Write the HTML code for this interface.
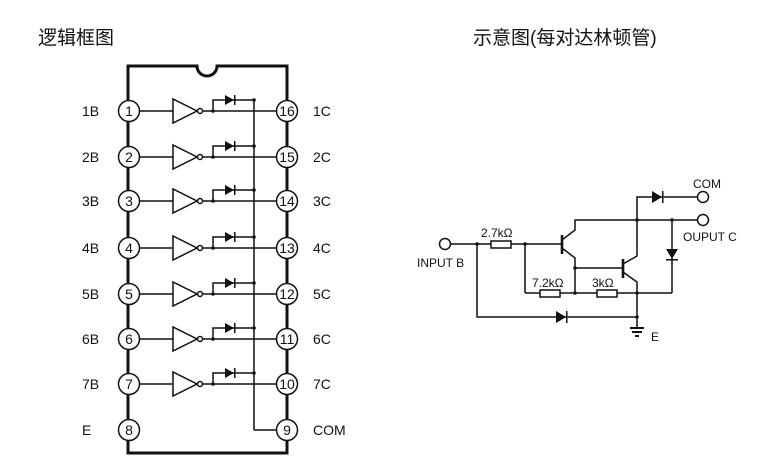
<!DOCTYPE html>
<html><head><meta charset="utf-8"><style>
html,body{margin:0;padding:0;background:#fff;}
svg{display:block;font-family:"Liberation Sans","Noto Sans CJK SC",sans-serif;}
</style></head><body>
<svg id="s" width="775" height="469" viewBox="0 0 775 469" xmlns="http://www.w3.org/2000/svg">
<text x="38" y="44" font-size="19" fill="#111" font-family="Liberation Sans, Noto Sans CJK SC, sans-serif">逻辑框图</text>
<text x="473" y="44" font-size="19" fill="#111" font-family="Liberation Sans, Noto Sans CJK SC, sans-serif">示意图(每对达林顿管)</text>
<path d="M128 66 H197 A10 10 0 0 0 217 66 H287 V453 H128 Z" fill="none" stroke="#111" stroke-width="3"/>
<g id="rows" stroke="#111" stroke-width="1.5" fill="none"></g>
<line x1="254" y1="100" x2="254" y2="430" stroke="#111" stroke-width="1.5"/>
<line x1="254" y1="430" x2="276" y2="430" stroke="#111" stroke-width="1.5"/>
<g stroke="#111" stroke-width="1.5" fill="none">
 <circle cx="445" cy="244" r="5.5" fill="#fff"/>
 <line x1="450" y1="244" x2="491" y2="244"/>
 <rect x="491" y="241" width="20" height="7"/>
 <line x1="511" y1="244" x2="562" y2="244"/>
 <line x1="562" y1="235" x2="562" y2="254" stroke-width="2.6"/>
 <polyline points="562,240 575,230 575,220 700,220"/>
 <polyline points="562,248 575,258 575,293"/>
 <line x1="575" y1="268" x2="623" y2="268"/>
 <line x1="623" y1="259" x2="623" y2="278" stroke-width="2.6"/>
 <polyline points="623,264 637,256 637,197 698,197"/>
 <polyline points="623,272 637,282 637,328"/>
 <circle cx="703" cy="197" r="5.5" fill="#fff"/>
 <circle cx="703" cy="220" r="5.5" fill="#fff"/>
 <line x1="525" y1="244" x2="525" y2="293"/>
 <line x1="525" y1="293" x2="540" y2="293"/>
 <rect x="540" y="290" width="20" height="7"/>
 <line x1="560" y1="293" x2="597" y2="293"/>
 <rect x="597" y="290" width="20" height="7"/>
 <line x1="617" y1="293" x2="672" y2="293"/>
 <line x1="672" y1="220" x2="672" y2="293"/>
 <polyline points="477,244 477,317 637,317"/>
 <line x1="630" y1="328" x2="644" y2="328" stroke-width="2"/>
 <line x1="632" y1="332" x2="642" y2="332" stroke-width="2"/>
 <line x1="635" y1="336" x2="639" y2="336" stroke-width="2"/>
</g>
<g fill="#111">
 <polygon points="652,191 652,203 662,197"/><rect x="662" y="191" width="1.5" height="12"/>
 <polygon points="666,249 678,249 672,259"/><rect x="666" y="259" width="12" height="1.5"/>
 <polygon points="556,311 556,323 566,317"/><rect x="566" y="311" width="1.5" height="12"/>
 <circle cx="477" cy="244" r="1.8"/><circle cx="525" cy="244" r="1.8"/>
 <circle cx="575" cy="268" r="1.8"/><circle cx="575" cy="293" r="1.8"/>
 <circle cx="637" cy="220" r="1.8"/><circle cx="672" cy="220" r="1.8"/>
 <circle cx="637" cy="293" r="1.8"/><circle cx="637" cy="317" r="1.8"/>
</g>
<g font-size="12" fill="#111">
 <text x="417" y="267">INPUT B</text>
 <text x="481" y="237">2.7kΩ</text>
 <text x="532" y="287">7.2kΩ</text>
 <text x="592" y="287">3kΩ</text>
 <text x="693" y="188">COM</text>
 <text x="683" y="241">OUPUT C</text>
 <text x="651" y="341">E</text>
</g>
</svg>
<script>
var g=document.getElementById('rows'),s=document.getElementById('s'),ns='http://www.w3.org/2000/svg';
function el(t,a,p){var e=document.createElementNS(ns,t);for(var k in a)e.setAttribute(k,a[k]);(p||g).appendChild(e);return e;}
var ys=[111,157,201,248,294,339,384,430];
var rl=[16,15,14,13,12,11,10,9],rt=['1C','2C','3C','4C','5C','6C','7C','COM'];
for(var i=0;i<8;i++){var y=ys[i];
 if(i<7){
  el('line',{x1:139,y1:y,x2:173,y2:y});
  el('polygon',{points:'173,'+(y-12)+' 173,'+(y+12)+' 197,'+y});
  el('circle',{cx:200,cy:y,r:2.5});
  el('line',{x1:203,y1:y,x2:276,y2:y});
  el('polyline',{points:'213,'+y+' 213,'+(y-11)+' 254,'+(y-11)});
  el('polygon',{points:'225,'+(y-16)+' 225,'+(y-6)+' 234,'+(y-11),fill:'#111',stroke:'none'});
  el('rect',{x:234,y:y-16,width:1.5,height:10,fill:'#111',stroke:'none'});
  el('circle',{cx:213,cy:y,r:1.8,fill:'#111',stroke:'none'});
  el('circle',{cx:254,cy:y-11,r:1.8,fill:'#111',stroke:'none'});
 }
 el('circle',{cx:129,cy:y,r:10.5,fill:'#fff',stroke:'#111','stroke-width':1.5},s);
 el('circle',{cx:287,cy:y,r:10.5,fill:'#fff',stroke:'#111','stroke-width':1.5},s);
 var t=el('text',{x:129,y:y+5,'font-size':14,'text-anchor':'middle',fill:'#111'},s);t.textContent=i+1;
 t=el('text',{x:287,y:y+5,'font-size':14,'text-anchor':'middle',fill:'#111'},s);t.textContent=rl[i];
 t=el('text',{x:82,y:y+5,'font-size':14,fill:'#111'},s);t.textContent=(i<7?(i+1)+'B':'E');
 t=el('text',{x:313,y:y+5,'font-size':14,fill:'#111'},s);t.textContent=rt[i];
}
</script>
</body></html>
